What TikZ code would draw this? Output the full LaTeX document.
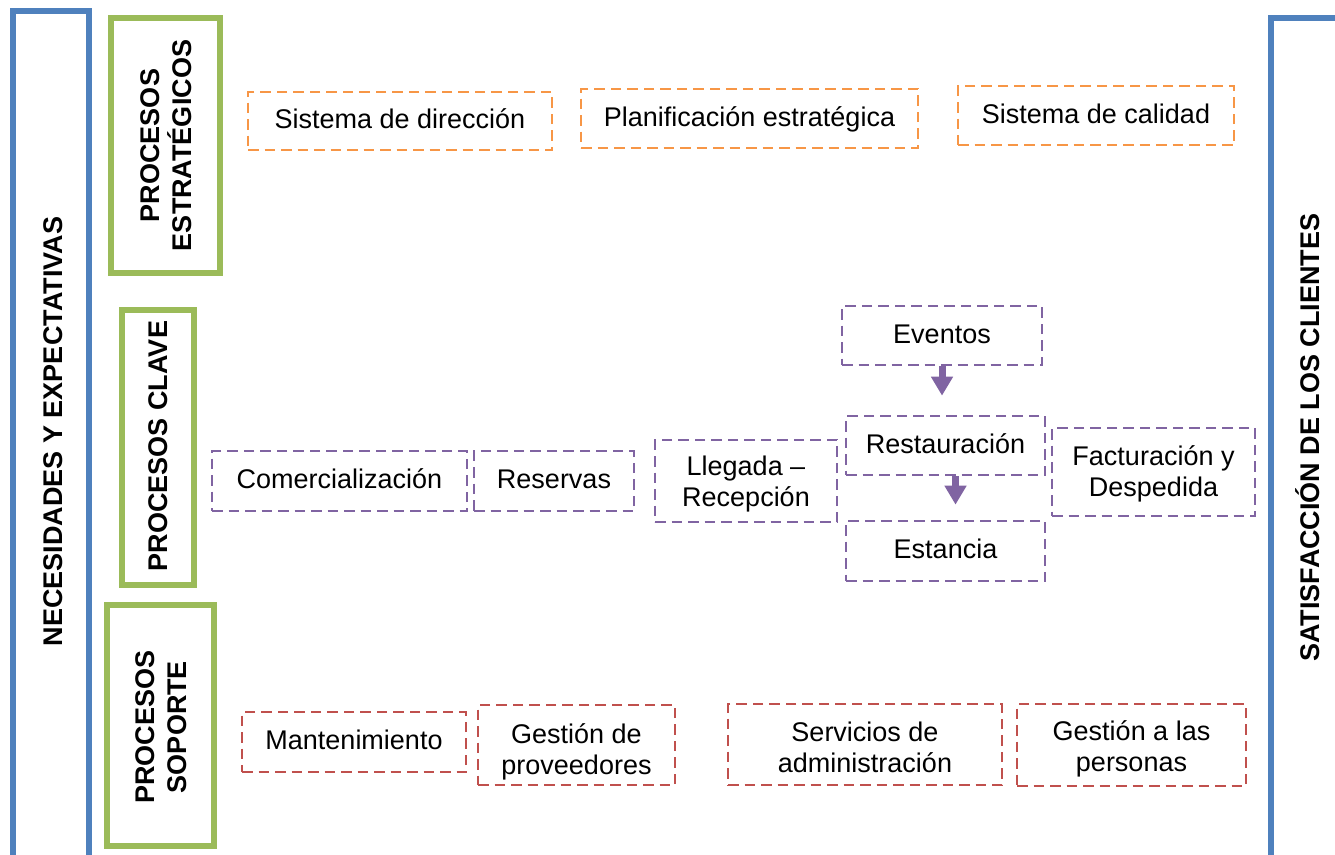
\documentclass[tikz,border=0pt]{standalone}
\usepackage{fontspec}
\setmainfont{Liberation Sans}
\usetikzlibrary{arrows.meta}
\definecolor{cblue}{HTML}{4F81BD}
\definecolor{cgreen}{HTML}{9BBB59}
\definecolor{corange}{HTML}{F79646}
\definecolor{cpurple}{HTML}{8064A2}
\definecolor{cred}{HTML}{C0504D}
\tikzset{
  txt/.style={font=\fontsize{27}{31.5}\selectfont, text=black, align=center, inner sep=0pt},
  frame/.style={draw=cblue, line width=6pt},
  groupbox/.style={draw=cgreen, line width=6pt, fill=white},
  dbox/.style={txt, draw, line width=2.8pt, dash pattern=on 10.5pt off 6pt, fill=white},
  oneline/.style={text height=19pt, text depth=4pt},
  twoline/.style={text height=#1, text depth=5pt},
  strat/.style={dbox, draw=corange, oneline},
  key/.style={dbox, draw=cpurple},
  supp/.style={dbox, draw=cred},
  vlabel/.style={txt, font=\fontsize{27}{31.5}\selectfont\bfseries, rotate=90, text height=19.5pt, text depth=0pt},
  vlabeltwo/.style={vlabel, text height=51pt},
  blockarrow/.style={draw=cpurple, line width=7pt, -{Triangle[width=21pt,length=19pt]}},
}
\begin{document}
\begin{tikzpicture}[x=1pt, y=-1pt]
\useasboundingbox (0,0) rectangle (1335,854);
\clip (0,0) rectangle (1335,854);
\fill[white] (0,0) rectangle (1335,854);

% outer frames
\draw[frame] (13,11) rectangle (89,890);
\draw[frame] (1271,18) rectangle (1400,890);
\node[vlabel] (nec) at (52.5,431.5) {NECESIDADES Y EXPECTATIVAS};
\node[vlabel] (sat) at (1310,437.5) {SATISFACCIÓN DE LOS CLIENTES};

% process groups
\draw[groupbox] (111,18) rectangle (220,273);
\node[vlabeltwo] (lgs) at (165.5,145.5) {PROCESOS\\ESTRATÉGICOS};
\draw[groupbox] (122,310) rectangle (194,585);
\node[vlabel] (lgk) at (158,446) {PROCESOS CLAVE};
\draw[groupbox] (107,605) rectangle (214,846);
\node[vlabeltwo] (lgp) at (160.5,727) {PROCESOS\\SOPORTE};

% strategic processes
\node[strat, minimum width=304pt, minimum height=58pt] (sd) at (400,121) {Sistema de dirección};
\node[strat, minimum width=337pt, minimum height=59pt] (pe) at (749.5,118.5) {Planificación estratégica};
\node[strat, minimum width=276pt, minimum height=59pt] (sc) at (1096,115.5) {Sistema de calidad};

% key processes
\node[key, oneline, minimum width=255pt, minimum height=60pt] (com) at (339.5,481) {Comercialización};
\node[key, oneline, minimum width=160pt, minimum height=60pt] (res) at (554,481) {Reservas};
\node[key, twoline=56pt, minimum width=182pt, minimum height=82pt] (lle) at (746,481) {Llegada –\\Recepción};
\node[key, oneline, minimum width=200pt, minimum height=59pt] (ev) at (942,335.5) {Eventos};
\node[key, oneline, minimum width=199pt, minimum height=59pt] (rest) at (945.5,445.5) {Restauración};
\node[key, oneline, minimum width=199pt, minimum height=60pt] (est) at (945.5,551) {Estancia};
\node[key, twoline=54pt, minimum width=203pt, minimum height=88pt] (fac) at (1153.5,472) {Facturación y\\Despedida};

\draw[blockarrow, shorten >=19pt] (ev.south) -- (ev.south |- rest.north);
\draw[blockarrow, shorten >=15pt] ([xshift=10pt]rest.south) -- ([xshift=10pt]rest.south |- est.north);

% support processes
\node[supp, oneline, minimum width=224pt, minimum height=60pt] (man) at (354,742) {Mantenimiento};
\node[supp, twoline=64pt, minimum width=197pt, minimum height=80pt] (gp) at (576.5,745) {Gestión de\\proveedores};
\node[supp, twoline=61pt, minimum width=274pt, minimum height=81pt] (sa) at (865,744.5) {Servicios de\\administración};
\node[supp, twoline=58pt, minimum width=229pt, minimum height=82pt] (gap) at (1131.5,745) {Gestión a las\\personas};
\end{tikzpicture}
\end{document}
